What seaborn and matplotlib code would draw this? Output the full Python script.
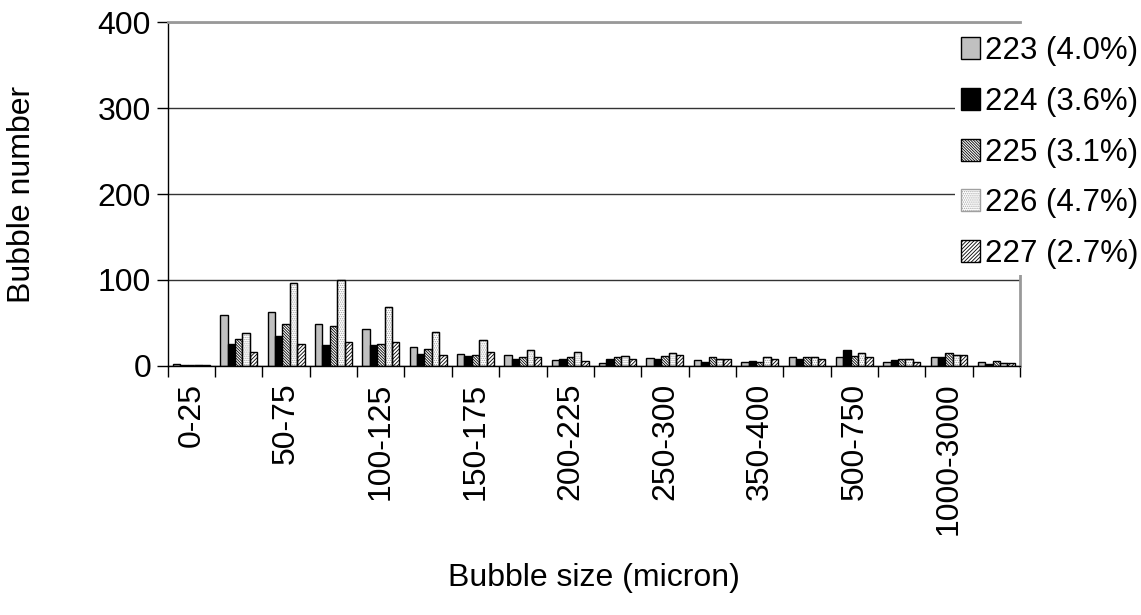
import numpy as np
import pandas as pd
import matplotlib
matplotlib.use('Agg')
import matplotlib.pyplot as plt
from matplotlib.patches import Rectangle
import seaborn as sns

# bubble size classes (micron)
sizes = ['0-25', '25-50', '50-75', '75-100', '100-125', '125-150', '150-175',
         '175-200', '200-225', '225-250', '250-300', '300-350', '350-400',
         '400-500', '500-750', '750-1000', '1000-3000', '>3000']

# bubble counts per sample
s223 = [2, 59, 63, 49, 43, 22, 14, 13, 7, 3.5, 9, 7, 4, 10, 10, 4, 10, 4]
s224 = [1, 25, 35, 24, 24, 14, 11, 8, 8, 8, 7.5, 5, 5.5, 8, 18, 7, 10, 2]
s225 = [1, 31, 49, 46, 25, 20, 13, 10, 10, 10, 11, 10, 5, 10, 11, 8, 14.5, 5.5]
s226 = [1, 38, 96, 100, 69, 39, 30, 19, 16, 11, 14.5, 7.5, 10, 10, 14.5, 8, 12.5, 3]
s227 = [0.5, 16, 25, 27.5, 27.5, 13, 16, 10, 5.5, 7.5, 12.5, 8.5, 8, 8, 10, 4.5, 12.5, 3]

series = ['223 (4.0%)', '224 (3.6%)', '225 (3.1%)', '226 (4.7%)', '227 (2.7%)']

df = pd.DataFrame({'size': sizes, series[0]: s223, series[1]: s224,
                   series[2]: s225, series[3]: s226, series[4]: s227})
df = df.melt(id_vars='size', var_name='sample', value_name='count')

sns.set_style('white')
plt.rcParams['font.family'] = ['Liberation Sans', 'DejaVu Sans']
plt.rcParams['text.color'] = 'black'
plt.rcParams['axes.labelcolor'] = 'black'
plt.rcParams['xtick.color'] = 'black'
plt.rcParams['ytick.color'] = 'black'
plt.rcParams['hatch.linewidth'] = 0.6

fig = plt.figure(figsize=(11.41, 6.15), dpi=100)
ax = fig.add_axes([0.147, 0.405, 0.747, 0.559])

fills = ['#c0c0c0', 'black', 'white', 'white', 'white']
hatches = [None, None, '\\' * 12, '.' * 8, '/' * 9]

sns.barplot(data=df, x='size', y='count', hue='sample', order=sizes,
            hue_order=series, palette=fills, saturation=1, width=0.78,
            edgecolor='black', linewidth=1, ax=ax)

for cont, h, c in zip(ax.containers, hatches, fills):
    for p in cont.patches:
        p.set_facecolor(c)
        p.set_edgecolor('black')
        if h:
            p.set_hatch(h)
        if h and h[0] == '.':
            # light grey dots, black outline drawn on top
            p.set_edgecolor('#a0a0a0')
            ax.add_patch(Rectangle(p.get_xy(), p.get_width(), p.get_height(),
                                   fill=False, edgecolor='black', linewidth=1,
                                   zorder=p.get_zorder() + 0.1))

ax.set_ylim(0, 400)
ax.set_xlim(-0.5, len(sizes) - 0.5)
ax.set_yticks([0, 100, 200, 300, 400])
ax.yaxis.grid(True, color='#333333', linewidth=1)
ax.set_axisbelow(True)

# labels on every other class, tick marks on class boundaries
ax.set_xticks(np.arange(0, len(sizes), 2))
ax.set_xticklabels(sizes[::2], rotation=90)
ax.set_xticks(np.arange(-0.5, len(sizes), 1), minor=True)
ax.tick_params(axis='x', which='major', length=0, pad=12, labelsize=23)
ax.tick_params(axis='x', which='minor', length=8, width=1, color='black',
               direction='out', bottom=True)
ax.tick_params(axis='y', length=8, width=1, color='black', direction='out',
               left=True, labelsize=23, pad=4)

for side in ['left', 'bottom']:
    ax.spines[side].set_color('black')
    ax.spines[side].set_linewidth(1)
ax.spines['top'].set_color('#999999')
ax.spines['top'].set_linewidth(2)
ax.spines['right'].set_color('#999999')
ax.spines['right'].set_linewidth(2)
ax.spines['right'].set_bounds(0, 108)

ax.set_xlabel('Bubble size (micron)', fontsize=23, labelpad=20)
ax.set_ylabel('Bubble number', fontsize=23, labelpad=44)

leg = ax.legend(handles=ax.containers, labels=series, loc='upper left',
                bbox_to_anchor=(955 / 1141, 1 - 30 / 615),
                bbox_transform=fig.transFigure, frameon=True, fancybox=False,
                edgecolor='white', facecolor='white', framealpha=1,
                fontsize=22.5, handlelength=0.6, handleheight=0.7,
                handletextpad=0.15, labelspacing=0.66, borderpad=0.2,
                borderaxespad=0)
leg.get_frame().set_linewidth(0)
leg.set_zorder(10)

fig.savefig('out.png', dpi=100)
